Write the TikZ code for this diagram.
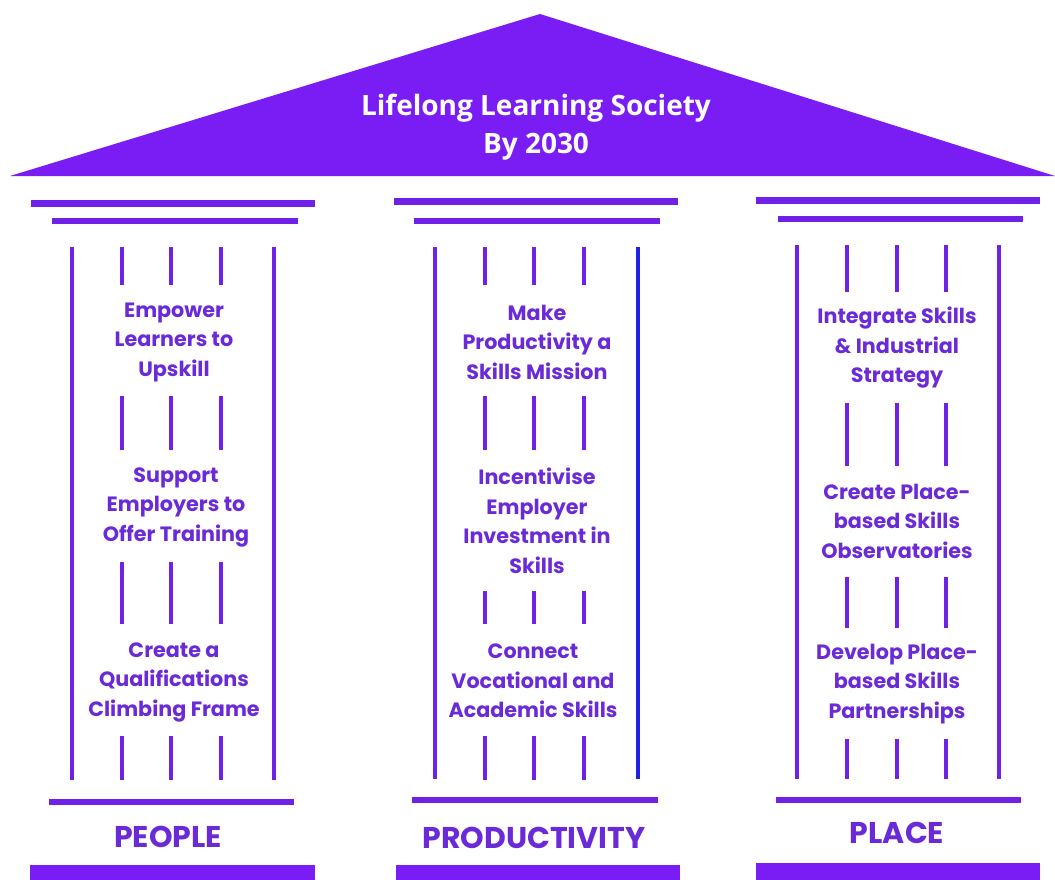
\documentclass[tikz,border=0pt]{standalone}
\usepackage{fontspec}
\setmainfont{Poppins}
\newfontfamily\bodyfont{Poppins Bold}
\newfontfamily\headfont{Poppins Bold}
\newfontfamily\titlefont{Open Sans}
\definecolor{roofviolet}{HTML}{7A1DF5}
\definecolor{lineviolet}{HTML}{6F21E8}
\definecolor{textviolet}{HTML}{6A2AD8}
\definecolor{edgeblue}{HTML}{2121E3}
\tikzset{
  topbar/.style={draw=lineviolet, line width=7pt},
  subbar/.style={draw=lineviolet, line width=6pt},
  flute/.style={draw=lineviolet, line width=4pt},
  plinth/.style={fill=roofviolet},
  aim/.style={text=textviolet, align=center, font=\bodyfont\fontsize{20.7}{29.5}\selectfont},
  pillarname/.style={text=textviolet, font=\headfont\fontsize{30}{34}\selectfont},
}
\begin{document}
\begin{tikzpicture}[x=1pt,y=-1pt]
\useasboundingbox (0,0) rectangle (1055,880);

% roof
\fill[roofviolet] (10,176) -- (540,14) -- (1055,176) -- cycle;
\node[text=white, align=center, font=\titlefont\bfseries\fontsize{28}{38}\selectfont] (title) at (536,127)
  {Lifelong Learning Society\\By 2030};

% ---------- pillar: people ----------
\draw[topbar] (31,203) -- (315,203);
\draw[subbar] (52,221) -- (298,221);
\foreach \x in {72,274} \draw[flute] (\x,247) -- (\x,780);
\foreach \x in {122,171,221} {
  \draw[flute] (\x,247) -- (\x,285);
  \draw[flute] (\x,396) -- (\x,450);
  \draw[flute] (\x,562) -- (\x,624);
  \draw[flute] (\x,736) -- (\x,780);
}
\node[aim] (p1) at (174,342) {Empower\\Learners to\\Upskill};
\node[aim] (p2) at (176,507) {Support\\Employers to\\Offer Training};
\node[aim] (p3) at (174,682) {Create a\\Qualifications\\Climbing Frame};
\draw[subbar] (49,802) -- (294,802);
\node[pillarname] (people) at (168,837) {PEOPLE};
\fill[plinth] (30,865) rectangle (315,880);

% ---------- pillar: productivity ----------
\draw[topbar] (394,201) -- (678,201);
\draw[subbar] (414,221) -- (660,221);
\draw[flute] (435,247) -- (435,779);
\draw[flute, draw=edgeblue] (638,247) -- (638,779);
\foreach \x in {485,534,584} {
  \draw[flute] (\x,247) -- (\x,285);
  \draw[flute] (\x,396) -- (\x,450);
  \draw[flute] (\x,591) -- (\x,624);
  \draw[flute] (\x,736) -- (\x,780);
}
\node[aim] (q1) at (537,342) {Make\\Productivity a\\Skills Mission};
\node[aim] (q2) at (537,521) {Incentivise\\Employer\\Investment in\\Skills};
\node[aim] (q3) at (533,681) {Connect\\Vocational and\\Academic Skills};
\draw[subbar] (412,800) -- (658,800);
\node[pillarname] (productivity) at (534,838) {PRODUCTIVITY};
\fill[plinth] (396,865) rectangle (680,880);

% ---------- pillar: place ----------
\draw[topbar] (756,200) -- (1040,200);
\draw[subbar] (778,219) -- (1023,219);
\foreach \x in {797,999} \draw[flute] (\x,245) -- (\x,779);
\foreach \x in {847,897,946} {
  \draw[flute] (\x,245) -- (\x,292);
  \draw[flute] (\x,403) -- (\x,466);
  \draw[flute] (\x,577) -- (\x,628);
  \draw[flute] (\x,739) -- (\x,779);
}
\node[aim] (r1) at (897,348) {Integrate Skills\\\& Industrial\\Strategy};
\node[aim] (r2) at (897,521) {Create Place-\\based Skills\\Observatories};
\node[aim] (r3) at (897,684) {Develop Place-\\based Skills\\Partnerships};
\draw[subbar] (776,800) -- (1021,800);
\node[pillarname] (place) at (897,833) {PLACE};
\fill[plinth] (756,863) rectangle (1040,880);
\end{tikzpicture}
\end{document}
